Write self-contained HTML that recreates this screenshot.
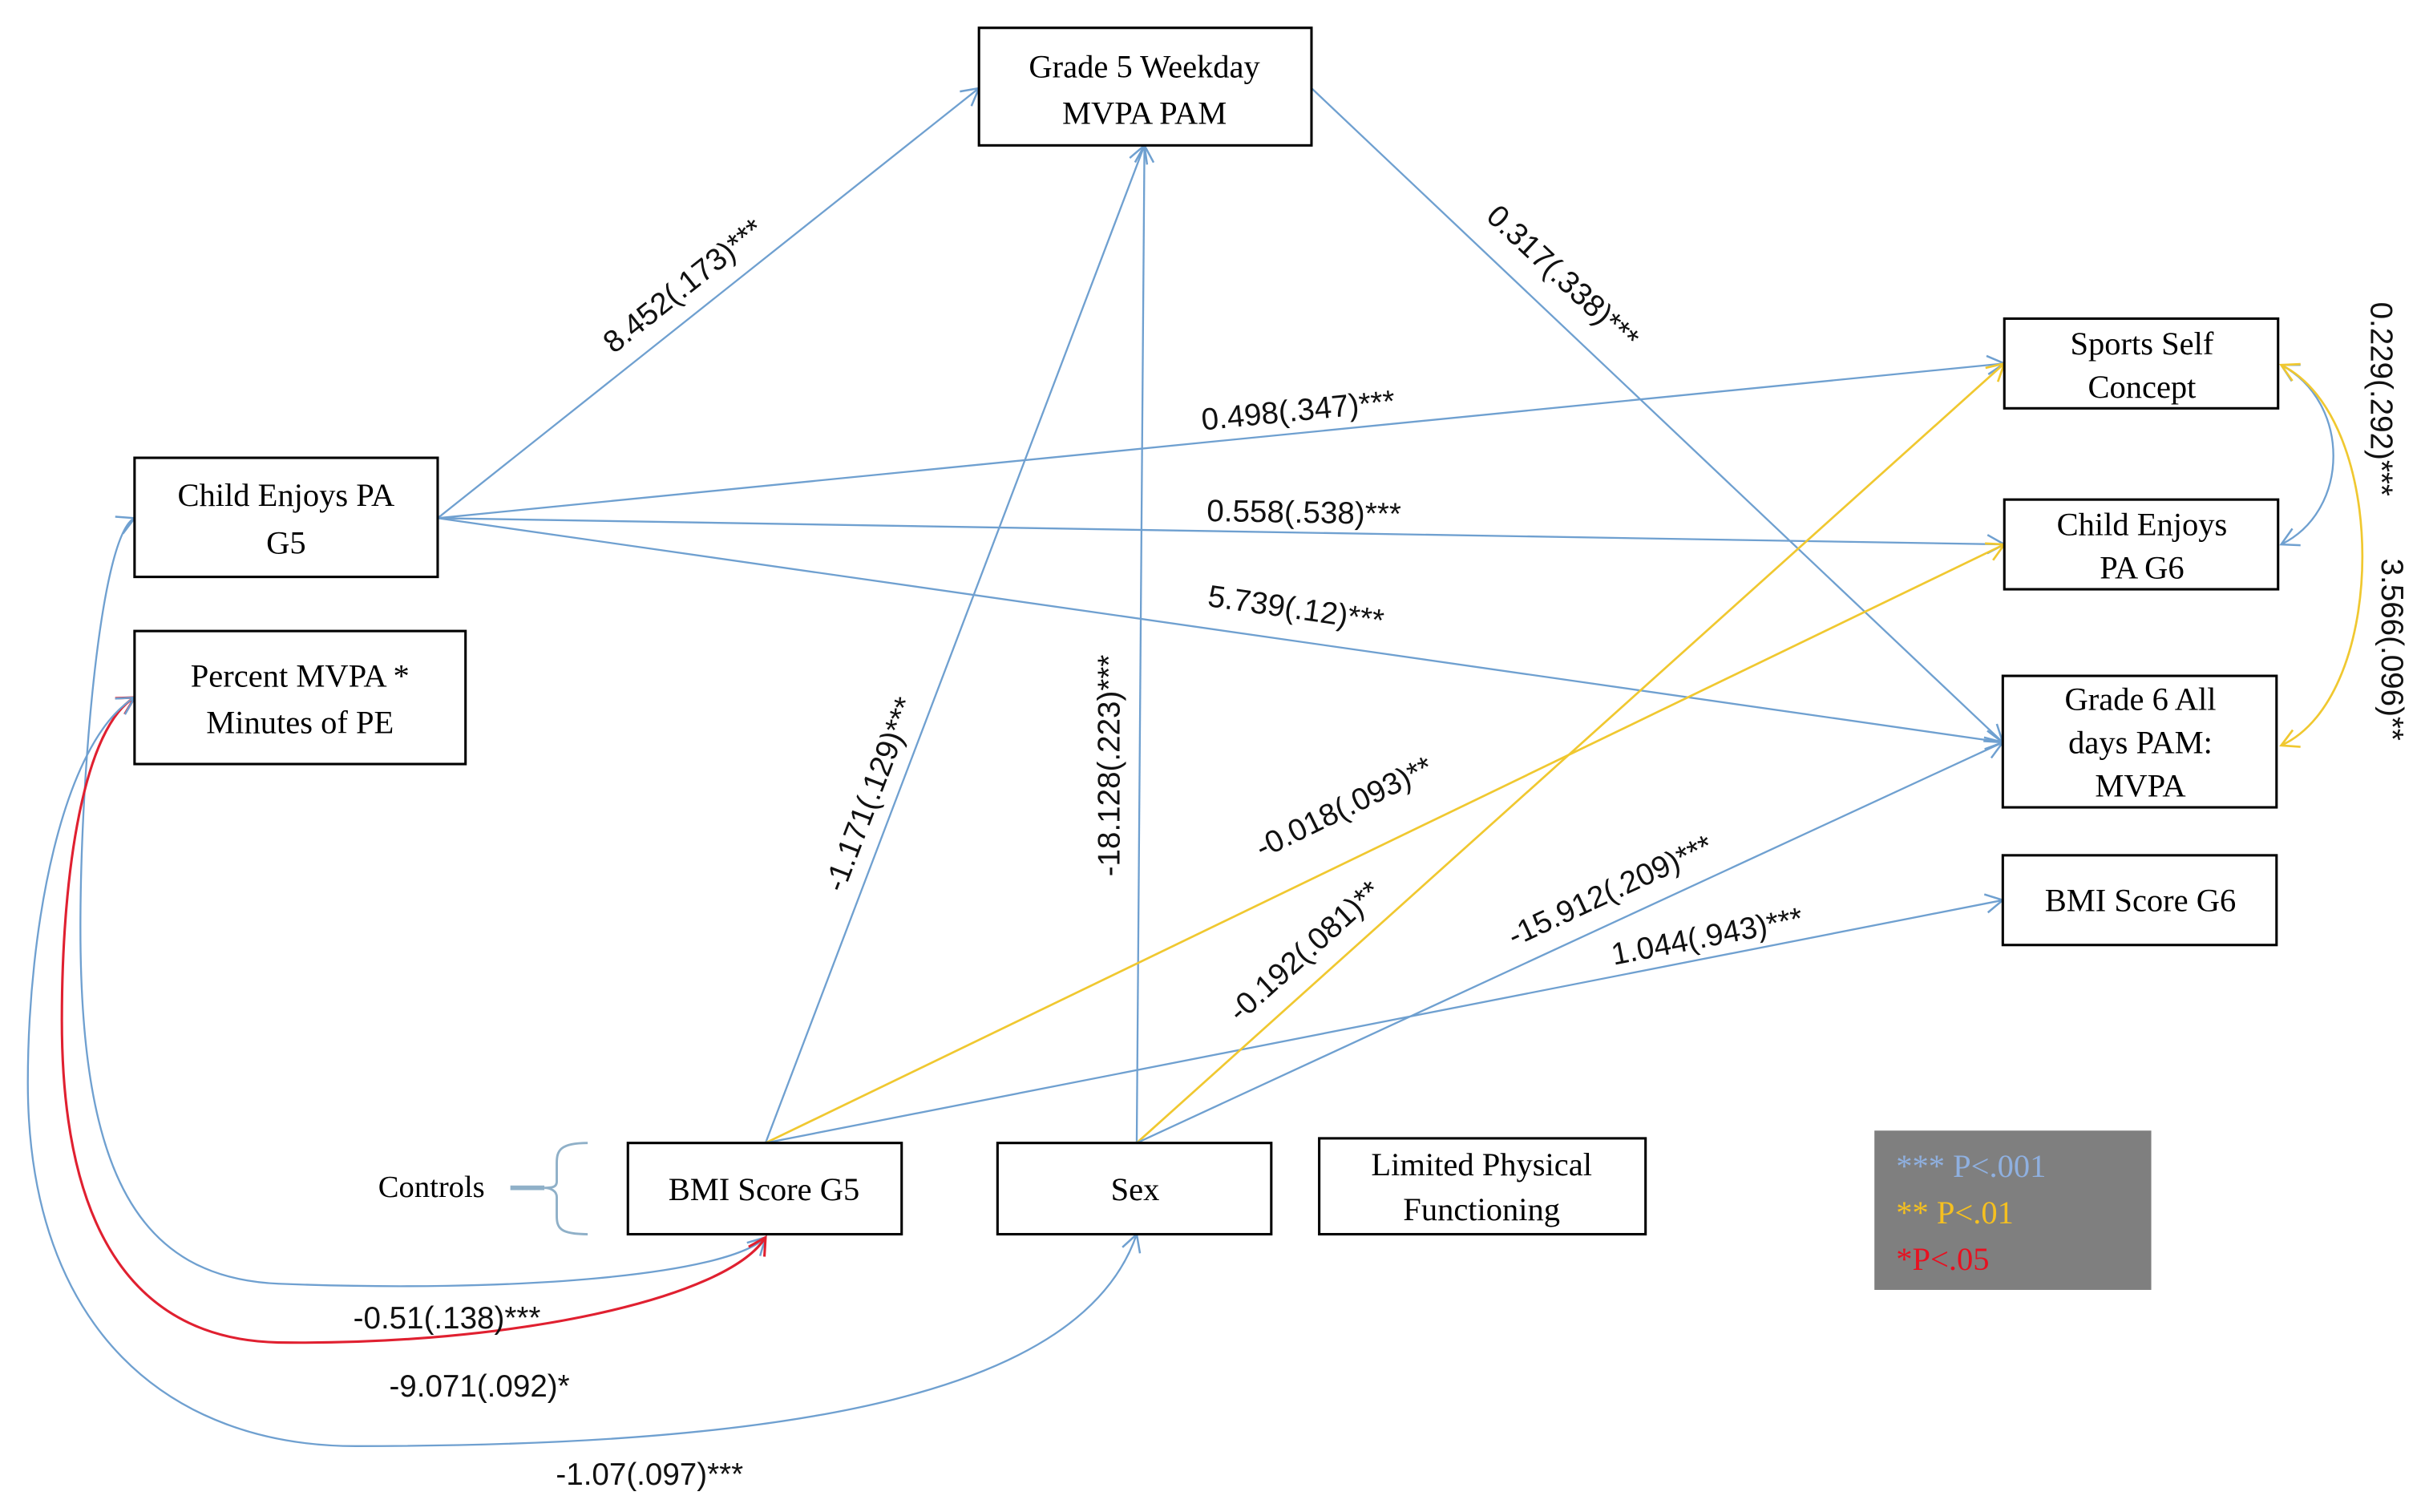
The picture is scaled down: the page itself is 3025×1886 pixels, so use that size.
<!DOCTYPE html>
<html><head><meta charset="utf-8"><style>
html,body{margin:0;padding:0;background:#fff;}
svg{display:block;}
.box{fill:#fff;stroke:#000;stroke-width:1.6;}
.bt{font-family:"Liberation Serif",serif;font-size:21px;fill:#000;text-anchor:middle;}
.lt{font-family:"Liberation Sans",sans-serif;font-size:20px;fill:#111;text-anchor:middle;}
.b{stroke:#6fa0d0;stroke-width:1.2;fill:none;}
.y{stroke:#f0c830;stroke-width:1.4;fill:none;}
.r{stroke:#e02030;stroke-width:1.6;fill:none;}
</style></head><body>
<svg width="3025" height="1886" viewBox="0 0 1568 977.6" preserveAspectRatio="none" xmlns="http://www.w3.org/2000/svg">
<defs>
<marker id="ab" markerWidth="14" markerHeight="14" refX="12" refY="7" orient="auto-start-reverse" markerUnits="userSpaceOnUse"><path d="M1,1 L12,7 L1,13" fill="none" stroke="#6fa0d0" stroke-width="1.3"/></marker>
<marker id="ay" markerWidth="14" markerHeight="14" refX="12" refY="7" orient="auto-start-reverse" markerUnits="userSpaceOnUse"><path d="M1,1 L12,7 L1,13" fill="none" stroke="#f0c830" stroke-width="1.4"/></marker>
<marker id="ar" markerWidth="14" markerHeight="14" refX="12" refY="7" orient="auto-start-reverse" markerUnits="userSpaceOnUse"><path d="M1,1 L12,7 L1,13" fill="none" stroke="#e02030" stroke-width="1.6"/></marker>
</defs>
<rect width="1568" height="978" fill="#fff"/>

<!-- connectors -->
<line class="b" x1="283" y1="335" x2="633" y2="57" marker-end="url(#ab)"/>
<line class="b" x1="283" y1="335" x2="1296" y2="235" marker-end="url(#ab)"/>
<line class="b" x1="283" y1="335" x2="1296" y2="352" marker-end="url(#ab)"/>
<line class="b" x1="283" y1="335" x2="1295" y2="480" marker-end="url(#ab)"/>
<line class="b" x1="848" y1="57" x2="1295" y2="480" marker-end="url(#ab)"/>
<line class="b" x1="495" y1="739" x2="740" y2="94" marker-end="url(#ab)"/>
<line class="b" x1="735" y1="739" x2="740" y2="94" marker-end="url(#ab)"/>
<line class="y" x1="495" y1="739" x2="1296" y2="352" marker-end="url(#ay)"/>
<line class="b" x1="495" y1="739" x2="1295" y2="582" marker-end="url(#ab)"/>
<line class="y" x1="735" y1="739" x2="1296" y2="235" marker-end="url(#ay)"/>
<line class="b" x1="735" y1="739" x2="1295" y2="480" marker-end="url(#ab)"/>

<path class="b" d="M1475,236 C1520,260 1520,330 1475,352" marker-start="url(#ab)" marker-end="url(#ab)"/>
<path class="y" d="M1475,236 C1545,270 1545,450 1475,482" marker-start="url(#ay)" marker-end="url(#ay)"/>

<path class="b" d="M87,335 C65,345 52,500 52,600 C52,760 90,826 180,830 C330,836 470,825 495,800" marker-start="url(#ab)" marker-end="url(#ab)"/>
<path class="r" d="M87,451 C55,470 40,560 40,660 C40,800 90,866 180,868 C330,870 470,840 495,800" marker-start="url(#ar)" marker-end="url(#ar)"/>
<path class="b" d="M87,451 C40,480 18,600 18,700 C18,860 110,935 230,935 C520,935 700,900 735,798" marker-start="url(#ab)" marker-end="url(#ab)"/>

<!-- boxes -->
<rect class="box" x="633" y="18" width="215" height="76"/>
<text class="bt" x="740" y="50">Grade 5 Weekday</text>
<text class="bt" x="740" y="80">MVPA PAM</text>

<rect class="box" x="87" y="296" width="196" height="77"/>
<text class="bt" x="185" y="327">Child Enjoys PA</text>
<text class="bt" x="185" y="358">G5</text>

<rect class="box" x="87" y="408" width="214" height="86"/>
<text class="bt" x="194" y="444">Percent MVPA *</text>
<text class="bt" x="194" y="474">Minutes of PE</text>

<rect class="box" x="1296" y="206" width="177" height="58"/>
<text class="bt" x="1385" y="229">Sports Self</text>
<text class="bt" x="1385" y="257">Concept</text>

<rect class="box" x="1296" y="323" width="177" height="58"/>
<text class="bt" x="1385" y="346">Child Enjoys</text>
<text class="bt" x="1385" y="374">PA G6</text>

<rect class="box" x="1295" y="437" width="177" height="85"/>
<text class="bt" x="1384" y="459">Grade 6 All</text>
<text class="bt" x="1384" y="487">days PAM:</text>
<text class="bt" x="1384" y="515">MVPA</text>

<rect class="box" x="1295" y="553" width="177" height="58"/>
<text class="bt" x="1384" y="589">BMI Score G6</text>

<rect class="box" x="406" y="739" width="177" height="59"/>
<text class="bt" x="494" y="776">BMI Score G5</text>

<rect class="box" x="645" y="739" width="177" height="59"/>
<text class="bt" x="734" y="776">Sex</text>

<rect class="box" x="853" y="736" width="211" height="62"/>
<text class="bt" x="958" y="760">Limited Physical</text>
<text class="bt" x="958" y="789">Functioning</text>

<text class="bt" x="279" y="774" style="font-size:20px">Controls</text>
<line x1="330" y1="768" x2="352" y2="768" stroke="#8fb0c8" stroke-width="3"/>
<path d="M380,739 C362,739 360,744 360,752 L360,764 C360,768 356,768 352,768 C356,768 360,770 360,774 L360,786 C360,794 362,798 380,798" fill="none" stroke="#8fb0c8" stroke-width="1.5"/>

<!-- legend -->
<rect x="1212" y="731" width="179" height="103" fill="#7f7f7f"/>
<text x="1226" y="761" style="font-family:'Liberation Serif',serif;font-size:21px;fill:#8fb0e0">*** P&lt;.001</text>
<text x="1226" y="791" style="font-family:'Liberation Serif',serif;font-size:21px;fill:#f5c020">** P&lt;.01</text>
<text x="1226" y="821" style="font-family:'Liberation Serif',serif;font-size:21px;fill:#e81020">*P&lt;.05</text>

<!-- labels -->
<text class="lt" transform="translate(446,190) rotate(-38.5)">8.452(.173)***</text>
<text class="lt" transform="translate(840,272) rotate(-5.6)">0.498(.347)***</text>
<text class="lt" transform="translate(843,338) rotate(1)">0.558(.538)***</text>
<text class="lt" transform="translate(837,400) rotate(8.2)">5.739(.12)***</text>
<text class="lt" transform="translate(1006,184) rotate(43)">0.317(.338)***</text>
<text class="lt" transform="translate(569,516) rotate(-69)">-1.171(.129)***</text>
<text class="lt" transform="translate(724,495) rotate(-90)">-18.128(.223)***</text>
<text class="lt" transform="translate(872,528) rotate(-26)">-0.018(.093)**</text>
<text class="lt" transform="translate(848,620) rotate(-42)">-0.192(.081)**</text>
<text class="lt" transform="translate(1044,582) rotate(-25)">-15.912(.209)***</text>
<text class="lt" transform="translate(1105,612) rotate(-11)">1.044(.943)***</text>
<text class="lt" transform="translate(1533,258) rotate(90)">0.229(.292)***</text>
<text class="lt" transform="translate(1540,420) rotate(90)">3.566(.096)**</text>
<text class="lt" x="289" y="859">-0.51(.138)***</text>
<text class="lt" x="310" y="903">-9.071(.092)*</text>
<text class="lt" x="420" y="960">-1.07(.097)***</text>
</svg>
</body></html>
